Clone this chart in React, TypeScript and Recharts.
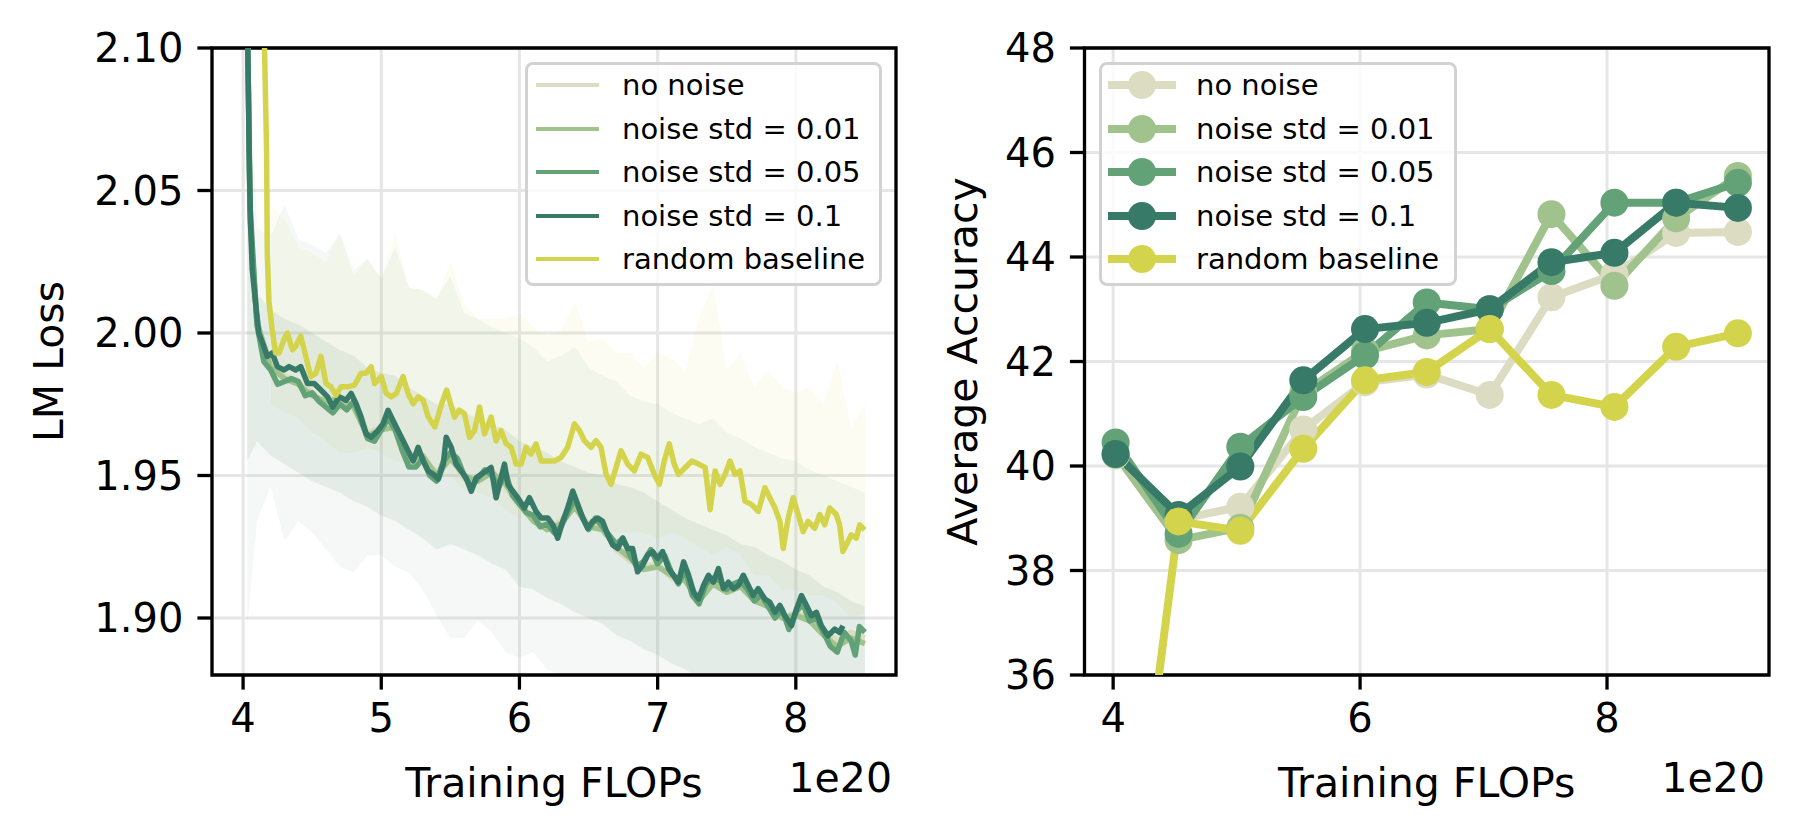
import {
  ComposedChart,
  LineChart,
  Line,
  Area,
  XAxis,
  YAxis,
  CartesianGrid,
  Legend,
  ReferenceArea,
  Label,
} from "recharts";

const FONT = "DejaVu Sans";

const COLORS: Record<string, string> = {
  noNoise: "#dcdcc2",
  std001: "#a0c38e",
  std005: "#62a276",
  std01: "#377a68",
  baseline: "#d4d44c",
};

const SERIES = [
  { key: "noNoise", name: "no noise" },
  { key: "std001", name: "noise std = 0.01" },
  { key: "std005", name: "noise std = 0.05" },
  { key: "std01", name: "noise std = 0.1" },
  { key: "baseline", name: "random baseline" },
];

// ---- LM loss (left panel), x in units of 1e20 FLOPs ----

// smoothed loss curves as [flops, loss]
const baselineLoss: [number, number][] = [
  [4.14, 2.16], [4.155, 2.1], [4.17, 2.064], [4.175, 2.028], [4.187, 2.011], [4.211, 2.001],
  [4.235, 1.993], [4.26, 1.993], [4.296, 1.9977], [4.32, 2.0], [4.357, 1.9941], [4.381, 1.9953],
  [4.417, 1.9989], [4.454, 1.9918], [4.49, 1.9847], [4.527, 1.9859], [4.563, 1.9918], [4.6, 1.9823],
  [4.636, 1.9811], [4.672, 1.9782], [4.709, 1.9811], [4.757, 1.9811], [4.806, 1.9817], [4.854, 1.9859],
  [4.891, 1.9859], [4.927, 1.9882], [4.951, 1.9823], [5.0, 1.9847], [5.036, 1.9788], [5.073, 1.9776],
  [5.109, 1.9788], [5.158, 1.9847], [5.194, 1.9788], [5.231, 1.9752], [5.267, 1.9776], [5.303, 1.9764],
  [5.34, 1.9705], [5.388, 1.967], [5.437, 1.9752], [5.473, 1.98], [5.494, 1.9764], [5.53, 1.9705],
  [5.566, 1.9729], [5.602, 1.9717], [5.639, 1.9634], [5.675, 1.9658], [5.711, 1.974], [5.747, 1.9646],
  [5.795, 1.9705], [5.831, 1.9622], [5.867, 1.9658], [5.904, 1.9611], [5.94, 1.9599], [5.976, 1.954],
  [6.012, 1.954], [6.048, 1.9599], [6.084, 1.9575], [6.12, 1.9611], [6.157, 1.9551], [6.205, 1.9551],
  [6.253, 1.9551], [6.301, 1.9563], [6.349, 1.9599], [6.398, 1.9681], [6.434, 1.9658], [6.47, 1.9622],
  [6.518, 1.9599], [6.554, 1.9622], [6.59, 1.9599], [6.627, 1.9504], [6.663, 1.9469], [6.699, 1.9528],
  [6.735, 1.9587], [6.783, 1.954], [6.831, 1.9516], [6.88, 1.9575], [6.928, 1.9563], [6.976, 1.9504],
  [7.012, 1.9469], [7.048, 1.9551], [7.084, 1.9611], [7.12, 1.954], [7.151, 1.9504], [7.2, 1.9528],
  [7.248, 1.9551], [7.296, 1.954], [7.344, 1.9528], [7.38, 1.938], [7.416, 1.9516], [7.452, 1.9469],
  [7.488, 1.9504], [7.524, 1.9551], [7.56, 1.9504], [7.596, 1.9516], [7.632, 1.941], [7.68, 1.9398],
  [7.728, 1.9374], [7.776, 1.9457], [7.812, 1.9422], [7.849, 1.9386], [7.885, 1.9339], [7.909, 1.9244],
  [7.945, 1.9351], [7.981, 1.9422], [8.017, 1.9363], [8.053, 1.9303], [8.089, 1.9339], [8.137, 1.9315],
  [8.173, 1.9363], [8.209, 1.9327], [8.245, 1.9386], [8.293, 1.9363], [8.317, 1.9327], [8.341, 1.9233],
  [8.365, 1.9256], [8.401, 1.9292], [8.438, 1.928], [8.462, 1.9327], [8.498, 1.9309],
];

const std01Loss: [number, number][] = [
  [4.0, 2.45], [4.02, 2.2], [4.034, 2.1], [4.044, 2.064], [4.053, 2.0402], [4.066, 2.0225],
  [4.09, 2.0107], [4.114, 2.0], [4.15, 1.9953], [4.175, 1.9918], [4.211, 1.993], [4.248, 1.9882],
  [4.296, 1.987], [4.333, 1.9882], [4.381, 1.987], [4.417, 1.9882], [4.466, 1.9823], [4.515, 1.9823],
  [4.563, 1.98], [4.612, 1.9776], [4.648, 1.974], [4.697, 1.9776], [4.745, 1.9764], [4.782, 1.9788],
  [4.818, 1.9752], [4.854, 1.9705], [4.891, 1.9646], [4.927, 1.9634], [4.976, 1.9658], [5.012, 1.9681],
  [5.049, 1.9729], [5.085, 1.9693], [5.121, 1.9658], [5.158, 1.9622], [5.194, 1.9587], [5.231, 1.9551],
  [5.267, 1.9599], [5.303, 1.9551], [5.34, 1.9516], [5.376, 1.9504], [5.413, 1.9487], [5.449, 1.954],
  [5.47, 1.9634], [5.506, 1.9599], [5.542, 1.954], [5.578, 1.9516], [5.614, 1.9492], [5.651, 1.9445],
  [5.687, 1.9492], [5.723, 1.9504], [5.759, 1.9516], [5.795, 1.9528], [5.831, 1.9422], [5.867, 1.9492],
  [5.892, 1.954], [5.916, 1.9469], [5.952, 1.9445], [5.988, 1.9422], [6.036, 1.9386], [6.072, 1.9422],
  [6.12, 1.9374], [6.157, 1.9351], [6.205, 1.9351], [6.241, 1.9327], [6.277, 1.928], [6.313, 1.9339],
  [6.349, 1.9386], [6.386, 1.9445], [6.422, 1.9398], [6.458, 1.9351], [6.494, 1.9315], [6.53, 1.9339],
  [6.566, 1.9351], [6.602, 1.9339], [6.639, 1.9292], [6.675, 1.9256], [6.711, 1.9244], [6.747, 1.928],
  [6.783, 1.9244], [6.819, 1.9244], [6.855, 1.9162], [6.892, 1.9185], [6.928, 1.9221], [6.964, 1.9233],
  [7.0, 1.9209], [7.036, 1.9233], [7.079, 1.9173], [7.115, 1.915], [7.151, 1.9126], [7.188, 1.9197],
  [7.224, 1.915], [7.26, 1.9091], [7.296, 1.9067], [7.332, 1.9114], [7.368, 1.915], [7.404, 1.9126],
  [7.44, 1.9173], [7.476, 1.9103], [7.512, 1.9126], [7.548, 1.9103], [7.584, 1.9114], [7.62, 1.915],
  [7.656, 1.9114], [7.692, 1.9079], [7.728, 1.9103], [7.776, 1.9067], [7.812, 1.9055], [7.849, 1.902],
  [7.885, 1.9044], [7.921, 1.9008], [7.969, 1.8973], [8.005, 1.9032], [8.041, 1.9079], [8.077, 1.9044],
  [8.113, 1.9008], [8.149, 1.902], [8.185, 1.8973], [8.233, 1.8937], [8.281, 1.8961], [8.317, 1.8949],
  [8.341, 1.8973],
];

const std005Loss: [number, number][] = [
  [4.0, 2.45], [4.02, 2.2], [4.034, 2.1], [4.05, 2.045], [4.1, 2.003], [4.15, 1.99], [4.2, 1.987],
  [4.25, 1.982], [4.3, 1.983], [4.35, 1.984], [4.4, 1.983], [4.45, 1.978], [4.5, 1.979], [4.55, 1.976],
  [4.6, 1.974], [4.65, 1.972], [4.7, 1.975], [4.75, 1.973], [4.8, 1.976], [4.85, 1.97], [4.9, 1.963],
  [4.95, 1.962], [5.0, 1.966], [5.05, 1.97], [5.1, 1.966], [5.15, 1.959], [5.2, 1.953], [5.25, 1.953],
  [5.3, 1.956], [5.35, 1.95], [5.4, 1.948], [5.45, 1.955], [5.5, 1.958], [5.55, 1.956], [5.6, 1.95],
  [5.65, 1.946], [5.7, 1.949], [5.75, 1.952], [5.8, 1.95], [5.85, 1.946], [5.9, 1.951], [5.95, 1.943],
  [6.0, 1.94], [6.05, 1.937], [6.1, 1.936], [6.15, 1.932], [6.2, 1.933], [6.25, 1.93], [6.3, 1.932],
  [6.35, 1.937], [6.4, 1.942], [6.45, 1.936], [6.5, 1.931], [6.55, 1.935], [6.6, 1.932], [6.65, 1.929],
  [6.7, 1.926], [6.75, 1.928], [6.8, 1.922], [6.85, 1.918], [6.9, 1.92], [6.95, 1.924], [7.0, 1.919],
  [7.05, 1.922], [7.1, 1.916], [7.15, 1.912], [7.2, 1.917], [7.25, 1.908], [7.3, 1.905], [7.35, 1.912],
  [7.4, 1.914], [7.45, 1.913], [7.5, 1.91], [7.55, 1.912], [7.6, 1.913], [7.65, 1.91], [7.7, 1.906],
  [7.75, 1.908], [7.8, 1.904], [7.85, 1.9], [7.9, 1.903], [7.95, 1.896], [8.0, 1.902], [8.05, 1.905],
  [8.1, 1.899], [8.15, 1.9], [8.2, 1.895], [8.25, 1.89], [8.3, 1.888], [8.35, 1.895], [8.4, 1.892],
  [8.43, 1.887], [8.46, 1.897], [8.5, 1.895],
];

const std001Loss: [number, number][] = [
  [4.0, 2.45], [4.02, 2.2], [4.035, 2.1], [4.05, 2.04], [4.1, 2.004], [4.2, 1.988], [4.3, 1.984],
  [4.4, 1.982], [4.5, 1.978], [4.6, 1.976], [4.7, 1.977], [4.8, 1.974], [4.9, 1.964], [5.0, 1.966],
  [5.1, 1.967], [5.2, 1.955], [5.3, 1.957], [5.4, 1.95], [5.5, 1.956], [5.6, 1.95], [5.7, 1.948],
  [5.8, 1.951], [5.9, 1.947], [6.0, 1.94], [6.1, 1.934], [6.2, 1.931], [6.3, 1.933], [6.4, 1.939],
  [6.5, 1.932], [6.6, 1.931], [6.7, 1.925], [6.8, 1.921], [6.9, 1.917], [7.0, 1.918], [7.1, 1.915],
  [7.2, 1.913], [7.3, 1.906], [7.4, 1.912], [7.5, 1.909], [7.6, 1.911], [7.7, 1.906], [7.8, 1.904],
  [7.9, 1.9], [8.0, 1.901], [8.1, 1.899], [8.2, 1.894], [8.3, 1.89], [8.4, 1.893], [8.5, 1.891],
];

const noNoiseLoss: [number, number][] = [
  [4.0, 2.45], [4.02, 2.2], [4.035, 2.1], [4.05, 2.04], [4.1, 2.003], [4.2, 1.989], [4.3, 1.985],
  [4.4, 1.983], [4.5, 1.979], [4.6, 1.975], [4.7, 1.976], [4.8, 1.975], [4.9, 1.965], [5.0, 1.967],
  [5.1, 1.966], [5.2, 1.957], [5.3, 1.956], [5.4, 1.951], [5.5, 1.957], [5.6, 1.949], [5.7, 1.949],
  [5.8, 1.952], [5.9, 1.946], [6.0, 1.939], [6.1, 1.936], [6.2, 1.932], [6.3, 1.934], [6.4, 1.94],
  [6.5, 1.933], [6.6, 1.932], [6.7, 1.924], [6.8, 1.92], [6.9, 1.918], [7.0, 1.919], [7.1, 1.914],
  [7.2, 1.914], [7.3, 1.907], [7.4, 1.912], [7.5, 1.91], [7.6, 1.912], [7.7, 1.907], [7.8, 1.905],
  [7.9, 1.9], [8.0, 1.902], [8.1, 1.9], [8.2, 1.896], [8.3, 1.892], [8.4, 1.895], [8.5, 1.893],
];

// spread of the raw (unsmoothed) loss traces, sampled every 0.1
const rawX = [
  4.03, 4.1, 4.2, 4.3, 4.4, 4.5, 4.6, 4.7, 4.8, 4.9, 5.0, 5.1, 5.2, 5.3, 5.4, 5.5, 5.6, 5.7, 5.8, 5.9,
  6.0, 6.1, 6.2, 6.3, 6.4, 6.5, 6.6, 6.7, 6.8, 6.9, 7.0, 7.1, 7.2, 7.3, 7.4, 7.5, 7.6, 7.7, 7.8, 7.9,
  8.0, 8.1, 8.2, 8.3, 8.4, 8.5,
];
const noiseRawHigh = [
  2.12, 2.037, 2.034, 2.045, 2.033, 2.031, 2.028, 2.035, 2.022, 2.026, 2.019, 2.03, 2.016, 2.015, 2.012,
  2.02, 2.007, 2.005, 2.002, 2.0, 1.998, 1.995, 1.99, 1.992, 1.995, 1.988, 1.985, 1.983, 1.978, 1.976,
  1.975, 1.972, 1.97, 1.968, 1.97, 1.965, 1.963, 1.96, 1.958, 1.956, 1.955, 1.952, 1.95, 1.948, 1.946,
  1.944,
];
const noiseRawLow = [
  1.897, 1.934, 1.946, 1.927, 1.934, 1.93, 1.924, 1.918, 1.916, 1.922, 1.922, 1.918, 1.916, 1.91, 1.901,
  1.893, 1.893, 1.899, 1.895, 1.888, 1.886, 1.888, 1.882, 1.88, 1.876, 1.872, 1.87, 1.87, 1.866, 1.865,
  1.862, 1.86, 1.858, 1.856, 1.855, 1.853, 1.852, 1.85, 1.849, 1.848, 1.846, 1.845, 1.844, 1.842, 1.841,
  1.84,
];
const noiseCoreHigh = [
  2.06, 2.014, 2.008, 2.005, 2.003, 2.0, 1.997, 1.994, 1.992, 1.988, 1.986, 1.985, 1.981, 1.978, 1.975,
  1.975, 1.972, 1.97, 1.968, 1.966, 1.962, 1.96, 1.958, 1.955, 1.953, 1.951, 1.95, 1.947, 1.946, 1.944,
  1.941, 1.938, 1.935, 1.933, 1.931, 1.929, 1.926, 1.925, 1.922, 1.92, 1.917, 1.915, 1.911, 1.909, 1.906,
  1.904,
];
const noiseCoreLow = [
  1.955, 1.962, 1.957, 1.954, 1.951, 1.948, 1.946, 1.944, 1.941, 1.939, 1.936, 1.934, 1.931, 1.928, 1.924,
  1.926, 1.924, 1.922, 1.919, 1.917, 1.911, 1.91, 1.907, 1.905, 1.902, 1.9, 1.898, 1.894, 1.892, 1.889,
  1.887, 1.884, 1.882, 1.879, 1.877, 1.876, 1.874, 1.872, 1.87, 1.868, 1.866, 1.864, 1.862, 1.86, 1.858,
  1.857,
];
const baseRawHigh = [
  null, null, 2.045, 2.04, 2.03, 2.028, 2.025, 2.035, 2.02, 2.026, 2.019, 2.035, 2.016, 2.015, 2.012,
  2.025, 2.01, 2.005, 2.005, 2.005, 2.007, 2.002, 1.999, 2.001, 2.011, 1.997, 1.998, 1.993, 1.993, 1.988,
  1.993, 1.991, 1.987, 2.005, 2.017, 1.987, 1.993, 1.981, 1.987, 1.981, 1.979, 1.981, 1.975, 1.99, 1.967,
  1.975,
];
const baseRawLow = [
  null, null, 1.975, 1.972, 1.97, 1.965, 1.962, 1.958, 1.958, 1.96, 1.958, 1.955, 1.955, 1.952, 1.948,
  1.95, 1.945, 1.944, 1.942, 1.938, 1.935, 1.936, 1.934, 1.934, 1.94, 1.936, 1.932, 1.93, 1.93, 1.93,
  1.928, 1.93, 1.928, 1.925, 1.922, 1.925, 1.922, 1.915, 1.915, 1.91, 1.91, 1.908, 1.908, 1.905, 1.9,
  1.902,
];

const lossTicksX = [4, 5, 6, 7, 8];
const lossTicksY = [1.9, 1.95, 2.0, 2.05, 2.1];

// ---- average accuracy (right panel) ----
const accX = [4.02, 4.53, 5.03, 5.54, 6.04, 6.54, 7.05, 7.55, 8.06, 8.56, 9.06];
const accNoNoise = [40.2, 38.98, 39.22, 40.7, 41.6, 41.75, 41.36, 43.23, 43.67, 44.46, 44.48];
const accStd001 = [40.22, 38.58, 38.82, 41.4, 42.2, 42.5, 42.62, 44.82, 43.45, 44.74, 45.55];
const accStd005 = [40.45, 38.7, 40.37, 41.32, 42.12, 43.13, 43.0, 43.73, 45.04, 45.04, 45.42];
const accStd01 = [40.23, 39.06, 39.99, 41.64, 42.62, 42.74, 43.0, 43.9, 44.08, 45.04, 44.94];
const accBaseline = [29.5, 38.94, 38.76, 40.33, 41.64, 41.8, 42.62, 41.36, 41.13, 42.28, 42.54];

const accTicksX = [4, 6, 8];
const accTicksY = [36, 38, 40, 42, 44, 46, 48];

const toPoints = (pairs: [number, number][]) => pairs.map(([x, y]) => ({ x, y }));

const rawRows = rawX.map((x, i) => ({
  x,
  noiseOuter: [noiseRawLow[i], noiseRawHigh[i]],
  noiseCore: [noiseCoreLow[i], noiseCoreHigh[i]],
  baseRaw: baseRawLow[i] == null ? null : [baseRawLow[i], baseRawHigh[i]],
}));

const lossLines = [
  { key: "noNoise", pts: toPoints(noNoiseLoss) },
  { key: "std001", pts: toPoints(std001Loss) },
  { key: "std005", pts: toPoints(std005Loss) },
  { key: "std01", pts: toPoints(std01Loss) },
  { key: "baseline", pts: toPoints(baselineLoss) },
];

const accRows = accX.map((x, i) => ({
  x,
  noNoise: accNoNoise[i],
  std001: accStd001[i],
  std005: accStd005[i],
  std01: accStd01[i],
  baseline: accBaseline[i],
}));

const tickStyle = { fill: "#000", fontSize: 40, fontFamily: FONT };
const tickLineStyle = { stroke: "#000", strokeWidth: 3.3 };
const GRID = "#e6e6e6";

function LegendBox({ markers }: { markers: boolean }) {
  return (
    <div
      style={{
        position: "relative",
        width: "100%",
        height: "100%",
        boxSizing: "border-box",
        border: "3px solid #d2d2d2",
        borderRadius: 8,
        background: "rgba(255,255,255,0.8)",
        fontFamily: FONT,
        fontSize: 29,
        color: "#000",
      }}
    >
      {SERIES.map((s, i) => {
        const cy = 20 + i * 43.6;
        return (
          <div key={s.key} style={{ position: "absolute", left: 0, top: cy - 20, height: 40, width: "100%" }}>
            <svg width={90} height={40} style={{ position: "absolute", left: 0, top: 0 }}>
              {markers ? (
                <>
                  <line x1={6} x2={74} y1={20} y2={20} stroke={COLORS[s.key]} strokeWidth={8} />
                  <circle cx={40} cy={20} r={14} fill={COLORS[s.key]} />
                </>
              ) : (
                <line x1={8} x2={71} y1={20} y2={20} stroke={COLORS[s.key]} strokeWidth={4.2} />
              )}
            </svg>
            <div
              style={{
                position: "absolute",
                left: 94,
                top: 0,
                height: 40,
                lineHeight: "40px",
                whiteSpace: "nowrap",
              }}
            >
              {s.name}
            </div>
          </div>
        );
      })}
    </div>
  );
}

// axis titles drawn from the axis viewBox
const xTitle = (text: string) => (props: any) => {
  const vb = props.viewBox || { x: 0, y: 0, width: 0, height: 0 };
  return (
    <g>
      <text x={vb.x + vb.width / 2} y={vb.y + 122} textAnchor="middle" fontSize={41} fontFamily={FONT} fill="#000">
        {text}
      </text>
      <text x={vb.x + vb.width - 4} y={vb.y + 117} textAnchor="end" fontSize={41} fontFamily={FONT} fill="#000">
        1e20
      </text>
    </g>
  );
};

const yTitle = (text: string, baseX: number) => (props: any) => {
  const vb = props.viewBox || { x: 0, y: 0, width: 0, height: 0 };
  const cx = vb.x + baseX;
  const cy = vb.y + vb.height / 2;
  return (
    <text
      x={cx}
      y={cy}
      transform={`rotate(-90, ${cx}, ${cy})`}
      textAnchor="middle"
      fontSize={41}
      fontFamily={FONT}
      fill="#000"
    >
      {text}
    </text>
  );
};

function LossPanel() {
  const xDomain: [number, number] = [3.775, 8.725];
  const yDomain: [number, number] = [1.88, 2.1];
  return (
    <ComposedChart width={920} height={836} data={rawRows} margin={{ top: 48, right: 24, bottom: 0, left: 0 }}>
      <CartesianGrid stroke={GRID} strokeWidth={3} />
      <XAxis
        type="number"
        dataKey="x"
        domain={xDomain}
        ticks={lossTicksX}
        allowDataOverflow
        interval={0}
        height={161}
        axisLine={false}
        tick={tickStyle}
        tickLine={tickLineStyle}
        tickSize={14.6}
        tickMargin={14}
      >
        <Label content={xTitle("Training FLOPs")} />
      </XAxis>
      <YAxis
        type="number"
        domain={yDomain}
        ticks={lossTicksY}
        allowDataOverflow
        interval={0}
        width={212}
        axisLine={false}
        tick={tickStyle}
        tickLine={tickLineStyle}
        tickSize={14.6}
        tickMargin={14}
        tickFormatter={(v: number) => v.toFixed(2)}
      >
        <Label content={yTitle("LM Loss", 63)} />
      </YAxis>
      <Area
        dataKey="noiseOuter"
        type="linear"
        stroke="none"
        fill="#7fa58f"
        fillOpacity={0.08}
        isAnimationActive={false}
        activeDot={false}
      />
      <Area
        dataKey="baseRaw"
        type="linear"
        stroke="none"
        fill={COLORS.baseline}
        fillOpacity={0.07}
        isAnimationActive={false}
        activeDot={false}
      />
      <Area
        dataKey="noiseCore"
        type="linear"
        stroke="none"
        fill="#7fa58f"
        fillOpacity={0.14}
        isAnimationActive={false}
        activeDot={false}
      />
      {lossLines.map((l) => (
        <Line
          key={l.key}
          data={l.pts}
          dataKey="y"
          type="linear"
          stroke={COLORS[l.key]}
          strokeWidth={5.5}
          strokeLinejoin="round"
          dot={false}
          activeDot={false}
          isAnimationActive={false}
        />
      ))}
      <ReferenceArea
        x1={xDomain[0]}
        x2={xDomain[1]}
        y1={yDomain[0]}
        y2={yDomain[1]}
        fill="none"
        stroke="#000"
        strokeWidth={3.3}
        ifOverflow="visible"
      />
      <Legend
        layout="vertical"
        align="center"
        verticalAlign="middle"
        wrapperStyle={{ left: 525, top: 62, width: 357, height: 224 }}
        content={() => <LegendBox markers={false} />}
      />
    </ComposedChart>
  );
}

function AccuracyPanel() {
  const xDomain: [number, number] = [3.768, 9.312];
  const yDomain: [number, number] = [36, 48];
  return (
    <LineChart width={880} height={836} data={accRows} margin={{ top: 48, right: 31, bottom: 0, left: 0 }}>
      <CartesianGrid stroke={GRID} strokeWidth={3} />
      <XAxis
        type="number"
        dataKey="x"
        domain={xDomain}
        ticks={accTicksX}
        allowDataOverflow
        interval={0}
        height={161}
        axisLine={false}
        tick={tickStyle}
        tickLine={tickLineStyle}
        tickSize={14.6}
        tickMargin={14}
      >
        <Label content={xTitle("Training FLOPs")} />
      </XAxis>
      <YAxis
        type="number"
        domain={yDomain}
        ticks={accTicksY}
        allowDataOverflow
        interval={0}
        width={164.5}
        axisLine={false}
        tick={tickStyle}
        tickLine={tickLineStyle}
        tickSize={14.6}
        tickMargin={14}
      >
        <Label content={yTitle("Average Accuracy", 57)} />
      </YAxis>
      {SERIES.map((s) => (
        <Line
          key={s.key}
          dataKey={s.key}
          type="linear"
          stroke={COLORS[s.key]}
          strokeWidth={8}
          strokeLinejoin="round"
          dot={{ r: 14, fill: COLORS[s.key], stroke: COLORS[s.key], strokeWidth: 0 }}
          activeDot={false}
          isAnimationActive={false}
        />
      ))}
      <ReferenceArea
        x1={xDomain[0]}
        x2={xDomain[1]}
        y1={yDomain[0]}
        y2={yDomain[1]}
        fill="none"
        stroke="#000"
        strokeWidth={3.3}
        ifOverflow="visible"
      />
      <Legend
        layout="vertical"
        align="center"
        verticalAlign="middle"
        wrapperStyle={{ left: 179, top: 62, width: 358, height: 224 }}
        content={() => <LegendBox markers />}
      />
    </LineChart>
  );
}

export default function App() {
  return (
    <div style={{ position: "absolute", left: 0, top: 0, width: 1800, height: 836, background: "#fff" }}>
      <div style={{ position: "absolute", left: 0, top: 0 }}>
        <LossPanel />
      </div>
      <div style={{ position: "absolute", left: 920, top: 0 }}>
        <AccuracyPanel />
      </div>
    </div>
  );
}
